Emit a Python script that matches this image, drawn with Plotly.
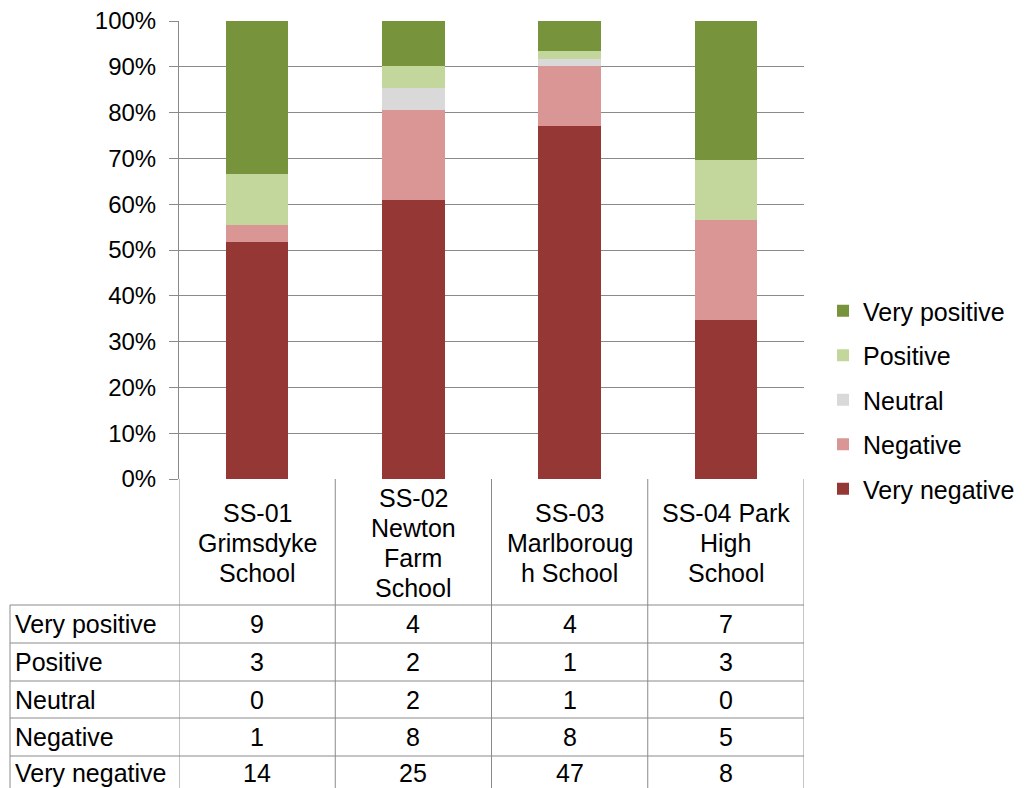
import plotly.graph_objects as go

categories = ["SS-01 Grimsdyke School", "SS-02 Newton Farm School",
              "SS-03 Marlborough School", "SS-04 Park High School"]
category_label_lines = [["SS-01", "Grimsdyke", "School"],
                        ["SS-02", "Newton", "Farm", "School"],
                        ["SS-03", "Marlboroug", "h School"],
                        ["SS-04 Park", "High", "School"]]
series_names = ["Very negative", "Negative", "Neutral", "Positive", "Very positive"]
very_negative = [14, 25, 47, 8]
negative = [1, 8, 8, 5]
neutral = [0, 2, 1, 0]
positive = [3, 2, 1, 3]
very_positive = [9, 4, 4, 7]
series_values = [very_negative, negative, neutral, positive, very_positive]
colors = ["#953735", "#D99694", "#D9D9D9", "#C3D69B", "#77933C"]

W, H = 1029, 788
FONT = "Liberation Sans, Arial, sans-serif"
FS = 25
TICK_FS = 24
GRID = "#8a8a8a"

def px_x(v):
    return v / W

def px_y(v):
    return 1 - v / H

x_idx = list(range(len(categories)))

fig = go.Figure()
n = len(series_names)
for k, (name, vals, col) in enumerate(zip(series_names, series_values, colors)):
    fig.add_trace(go.Bar(
        x=x_idx, y=vals, name=name, marker=dict(color=col, line=dict(width=0)),
        width=0.4, legendgroup=name, legendrank=n - k,
    ))

plot_left, plot_right, plot_top, plot_bottom = 179, 804, 21, 479

fig.update_layout(
    width=W, height=H,
    margin=dict(l=0, r=0, t=0, b=0, autoexpand=False),
    paper_bgcolor="white", plot_bgcolor="white",
    barmode="stack", barnorm="percent",
    font=dict(family=FONT, size=FS, color="black"),
    showlegend=True,
    legend=dict(
        x=px_x(823), y=px_y(400), xanchor="left", yanchor="middle",
        traceorder="grouped", tracegroupgap=9,
        font=dict(family=FONT, size=FS, color="black"),
        bgcolor="rgba(0,0,0,0)",
    ),
    xaxis=dict(
        domain=[px_x(plot_left), px_x(plot_right)],
        range=[-0.5, len(categories) - 0.5],
        showticklabels=False, showgrid=False, zeroline=False, ticks="",
        showline=False, fixedrange=True, automargin=False,
    ),
    yaxis=dict(
        domain=[px_y(plot_bottom), px_y(plot_top)],
        range=[0, 100], tickmode="linear", tick0=0, dtick=10, ticksuffix="%",
        showgrid=True, gridcolor=GRID, gridwidth=1,
        zeroline=False, showline=True, linecolor=GRID, linewidth=1,
        ticks="outside", ticklen=9, tickcolor=GRID, tickwidth=1,
        ticklabelstandoff=8,
        tickfont=dict(family=FONT, size=TICK_FS, color="black"),
        fixedrange=True, automargin=False,
    ),
)

shapes = []
row_lines = [605, 643, 681, 718, 756]
for yy in row_lines:
    shapes.append(dict(type="line", xref="paper", yref="paper",
                       x0=px_x(10), x1=px_x(plot_right), y0=px_y(yy), y1=px_y(yy),
                       line=dict(color=GRID, width=1)))
for i in range(len(categories) + 1):
    shapes.append(dict(type="line", xref="x", yref="paper",
                       x0=i - 0.5, x1=i - 0.5, y0=px_y(plot_bottom), y1=0,
                       line=dict(color=GRID, width=1)))
shapes.append(dict(type="line", xref="paper", yref="paper",
                   x0=px_x(10), x1=px_x(10), y0=px_y(605), y1=0,
                   line=dict(color=GRID, width=1)))
fig.update_layout(shapes=shapes)

annotations = []
LINE_H = 30
HEADER_CENTER = 543
for i, lines in enumerate(category_label_lines):
    nl = len(lines)
    for j, line in enumerate(lines):
        yc = HEADER_CENTER + (j - (nl - 1) / 2) * LINE_H
        annotations.append(dict(x=i, y=px_y(yc), xref="x", yref="paper", text=line,
                                showarrow=False, xanchor="center", yanchor="middle",
                                font=dict(family=FONT, size=FS, color="black")))
row_order = list(reversed(range(n)))
row_centers = [624, 662, 700, 737, 773]
for r, si in enumerate(row_order):
    yc = px_y(row_centers[r])
    annotations.append(dict(x=px_x(13), y=yc, xref="paper", yref="paper",
                            text=series_names[si], showarrow=False,
                            xanchor="left", yanchor="middle",
                            font=dict(family=FONT, size=FS, color="black")))
    for i, v in enumerate(series_values[si]):
        annotations.append(dict(x=i, y=yc, xref="x", yref="paper", text=str(v),
                                showarrow=False, xanchor="center", yanchor="middle",
                                font=dict(family=FONT, size=FS, color="black")))
fig.update_layout(annotations=annotations)

fig.write_html(
    "out.html",
    config={"displayModeBar": False},
    post_script="document.body.style.margin='0';document.body.style.padding='0';document.body.style.overflow='hidden';",
)
